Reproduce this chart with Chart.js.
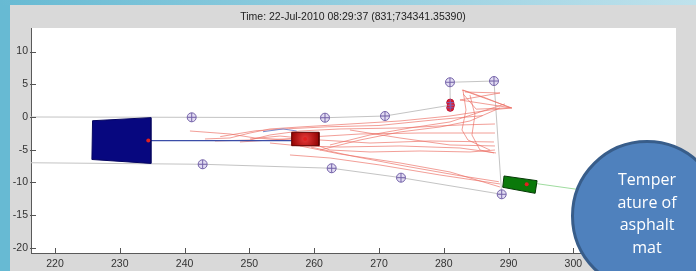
<!DOCTYPE html>
<html><head><meta charset="utf-8">
<script src="https://cdn.jsdelivr.net/npm/chart.js@4.4.1/dist/chart.umd.min.js"></script>
<style>
html,body{margin:0;padding:0;}
body{width:696px;height:271px;overflow:hidden;background:#d9d9d9;position:relative;}
#leftStrip{position:absolute;left:0;top:0;width:10px;height:271px;background:#67bad3;}
#topStrip{position:absolute;left:0;top:0;width:696px;height:5px;background:linear-gradient(90deg,#67bad3,#bfe2ec);}
#wrap{position:absolute;left:0;top:0;width:696px;height:271px;}
#title{position:absolute;left:10px;top:10px;width:686px;text-align:center;color:#222;font-family:'Liberation Sans Narrow','Liberation Sans',Arial,sans-serif;font-size:10.5px;line-height:12px;white-space:nowrap;}
#bubble{position:absolute;left:571px;top:140px;width:152px;height:152px;border-radius:50%;background:#4f81bd;border:3px solid #385d8a;box-sizing:border-box;}
#bubbleText{position:absolute;left:571px;top:168px;width:152px;text-align:center;color:#fff;font-family:'Open Sans',sans-serif;font-size:16px;line-height:22.5px;}
</style>
</head><body>
<div id="leftStrip"></div><div id="topStrip"></div>
<div id="wrap"><canvas id="c" width="696" height="271"></canvas></div>
<div id="title"></div>
<div id="bubble"></div>
<div id="bubbleText">Temper<br>ature of<br>asphalt<br>mat</div>
<script>
const titleText = 'Time: 22-Jul-2010 08:29:37 (831;734341.35390)';
const xTicks = [220, 230, 240, 250, 260, 270, 280, 290, 300, 310];
const yTicks = [-20, -15, -10, -5, 0, 5, 10];
const xRange = [216.3, 315.84];
const yRange = [-20.8, 13.61];

const truckBlue = [[225.8,-0.57],[234.8,-0.1],[234.8,-7.1],[225.7,-6.5],[225.8,-0.57]];
const rollerRed = [[256.53,-2.34],[260.74,-2.34],[260.74,-4.39],[256.53,-4.39],[256.53,-2.34]];
const rollerGreen = [[289.3,-9.02],[294.4,-9.74],[294.1,-11.67],[289.1,-10.75],[289.3,-9.02]];
const centerDots = [[234.4,-3.6],[258.6,-3.35],[292.8,-10.3]];
const boundaryMarkers = [[241.10,-0.05],[242.79,-7.23],[261.67,-0.11],[262.70,-7.84],[270.93,0.15],[273.40,-9.28],[280.96,5.31],[287.75,5.50],[288.94,-11.82]];
const redBlob = [[281.0,2.2],[281.0,1.4],[281.1,1.8]];
const edgeTop = [[216.3,0.0],[241.10,-0.05],[261.67,-0.11],[270.93,0.15],[281.0,1.8],[280.96,5.31],[287.75,5.50],[288.94,-11.82]];
const edgeBottom = [[216.3,-7.0],[242.79,-7.23],[262.70,-7.84],[273.40,-9.28],[288.94,-11.82]];
const greenPath = [[294.4,-10.2],[303.0,-11.4]];
const bluePath = [[234.4,-3.62],[256.5,-3.62]];
const blueWiggle = [[252.1,-2.25],[255.2,-1.83],[257.3,-2.14]];
const redTracks = [
  [[240.83,-2.14],[247.01,-2.60],[250.86,-3.21],[256.57,-3.52]],
  [[243.15,-3.36],[247.01,-3.21],[250.09,-2.45],[253.18,-1.83],[257.81,-1.53],[265.52,-1.07],[273.24,-0.61],[280.96,0.15],[287.13,1.07],[290.52,1.38]],
  [[244.69,-3.67],[250.09,-3.52],[253.18,-2.75],[257.81,-2.14],[263.98,-1.83],[273.24,-1.68],[282.50,-1.22],[287.90,-1.07]],
  [[248.55,-3.82],[253.18,-3.52],[259.35,-3.06],[267.07,-2.60],[276.33,-2.45],[287.90,-2.45]],
  [[250.09,-3.36],[254.72,-2.91],[260.90,-3.52],[268.61,-3.98],[277.87,-3.67],[287.75,-3.82]],
  [[253.18,-3.98],[257.81,-4.43],[263.98,-4.59],[273.24,-4.43],[282.50,-4.74],[288.06,-5.50]],
  [[256.27,-5.81],[262.44,-6.27],[270.15,-7.34],[279.41,-8.87],[288.67,-10.24]],
  [[257.81,-4.43],[263.98,-5.66],[273.24,-7.03],[280.96,-8.41],[288.67,-10.70]],
  [[258.58,-3.67],[262.44,-5.05],[268.61,-5.35],[276.33,-5.20],[284.04,-5.35],[287.90,-5.05]],
  [[260.90,-5.05],[267.07,-3.52],[273.24,-2.29],[279.41,-1.53],[284.04,-0.61],[288.67,1.38]],
  [[262.44,-4.28],[268.61,-2.75],[274.78,-1.68],[280.96,-0.76],[285.59,0.76],[289.44,1.99]],
  [[282.81,4.13],[290.52,1.38],[282.50,2.60],[288.67,3.67],[283.27,3.82]],
  [[282.96,4.13],[283.43,1.07],[282.81,-1.99],[283.73,-3.52],[287.13,-5.05]],
  [[284.04,3.36],[284.81,0.31],[284.35,-2.75],[285.59,-5.05],[287.75,-5.50]],
  [[265.52,-1.99],[273.24,-3.21],[280.96,-4.28],[287.90,-4.43]],
  [[282.96,4.13],[286.5,2.9],[290.3,1.4],[285.0,1.2],[283.0,3.5]],
  [[259.5,-4.6],[266.0,-6.0],[274.0,-7.5],[282.0,-8.9],[288.5,-9.9]],
  [[245.5,-3.0],[251.0,-2.1],[256.0,-1.8],[262.0,-1.5],[270.0,-1.3],[279.0,-0.4],[286.0,0.2]]
];

document.getElementById('title').textContent = titleText;

const pts = a => a.map(p => ({x: p[0], y: p[1]}));
const lineDs = (data, color, width, order) => ({data: pts(data), showLine: true, borderColor: color, borderWidth: width, pointRadius: 0, fill: false, tension: 0, order});
const polyDs = (data, fillColor, border, order) => ({data: pts(data), showLine: true, borderColor: border, borderWidth: 1, backgroundColor: fillColor, pointRadius: 0, fill: 'shape', tension: 0, order});

const redGrad = c => {
  const ch = c.chart;
  if (!ch.chartArea) return '#a00000';
  const cx = ch.scales.x.getPixelForValue(centerDots[1][0]);
  const cy = ch.scales.y.getPixelForValue(centerDots[1][1]);
  const g = ch.ctx.createRadialGradient(cx, cy, 0, cx, cy, 15);
  g.addColorStop(0, '#e83a3a');
  g.addColorStop(1, '#8e0000');
  return g;
};

const datasets = [
  lineDs(edgeTop, '#c4c4c4', 1, 10),
  lineDs(edgeBottom, '#c4c4c4', 1, 10),
  lineDs(greenPath, '#9fdc9f', 1, 9),
  ...redTracks.map(t => lineDs(t, 'rgba(236,110,100,0.75)', 0.9, 8)),
  lineDs(bluePath, '#3b4ea8', 1.2, 7),
  lineDs(blueWiggle, '#7a8cd0', 1, 7),
  polyDs(truckBlue, '#07077f', '#050560', 5),
  polyDs(rollerRed, redGrad, '#600000', 5),
  polyDs(rollerGreen, '#0a790a', '#053805', 5),
  {data: pts(boundaryMarkers), pointStyle: 'circle', pointRadius: 4.5, borderColor: '#7665aa', backgroundColor: 'rgba(200,190,232,0.55)', borderWidth: 1, showLine: false, order: 3},
  {data: pts(boundaryMarkers), pointStyle: 'cross', pointRadius: 4.5, borderColor: '#7665aa', borderWidth: 1, showLine: false, order: 2},
  {data: pts(redBlob), pointStyle: 'circle', pointRadius: 3.5, borderColor: '#c0102a', backgroundColor: '#e8202c', borderWidth: 1, showLine: false, order: 2},
  {data: pts(redBlob), pointStyle: 'cross', pointRadius: 3.5, borderColor: '#8060b0', borderWidth: 1, showLine: false, order: 1},
  {data: pts(centerDots), pointStyle: 'circle', pointRadius: 2, borderColor: '#e02020', backgroundColor: '#e02020', borderWidth: 0, showLine: false, order: 1}
];

const fontFam = "'Liberation Sans Narrow','Liberation Sans',Arial,sans-serif";

const plotBg = {
  id: 'plotBg',
  beforeDraw(chart) {
    const {ctx, chartArea: a} = chart;
    ctx.save(); ctx.fillStyle = '#ffffff';
    ctx.fillRect(a.left, a.top, a.right - a.left, a.bottom - a.top);
    ctx.restore();
  }
};
const innerTicks = {
  id: 'innerTicks',
  afterDraw(chart) {
    const {ctx, chartArea: a, scales: {x, y}} = chart;
    ctx.save(); ctx.strokeStyle = '#555'; ctx.lineWidth = 1; ctx.beginPath();
    xTicks.forEach(v => { const p = Math.round(x.getPixelForValue(v)) + 0.5; if (p < a.left || p > a.right) return; ctx.moveTo(p, a.bottom); ctx.lineTo(p, a.bottom - 5); });
    yTicks.forEach(v => { const p = Math.round(y.getPixelForValue(v)) + 0.5; ctx.moveTo(a.left - 1, p); ctx.lineTo(a.left + 5, p); });
    ctx.stroke(); ctx.restore();
  }
};

new Chart(document.getElementById('c'), {
  type: 'scatter',
  data: {datasets},
  options: {
    responsive: false, animation: false, events: [],
    layout: {padding: {left: 0, right: 20, top: 28, bottom: 0}},
    plugins: {legend: {display: false}, tooltip: {enabled: false}, title: {display: false}},
    scales: {
      x: {
        type: 'linear', min: xRange[0], max: xRange[1],
        afterBuildTicks: s => { s.ticks = xTicks.map(v => ({value: v})); },
        afterFit: s => { s.height = 18; },
        grid: {display: true, drawOnChartArea: false, drawTicks: false},
        border: {display: true, color: '#5a5a5a', width: 1},
        ticks: {padding: 5, color: '#333', font: {family: fontFam, size: 10.5}, maxRotation: 0, autoSkip: false, callback: v => String(v)}
      },
      y: {
        type: 'linear', min: yRange[0], max: yRange[1],
        afterBuildTicks: s => { s.ticks = yTicks.map(v => ({value: v})); },
        afterFit: s => { s.width = 31; },
        grid: {display: true, drawOnChartArea: false, drawTicks: false},
        border: {display: true, color: '#5a5a5a', width: 1},
        ticks: {padding: 3, color: '#333', font: {family: fontFam, size: 10.5}, autoSkip: false, callback: v => String(v)}
      }
    }
  },
  plugins: [plotBg, innerTicks]
});
</script>
</body></html>
